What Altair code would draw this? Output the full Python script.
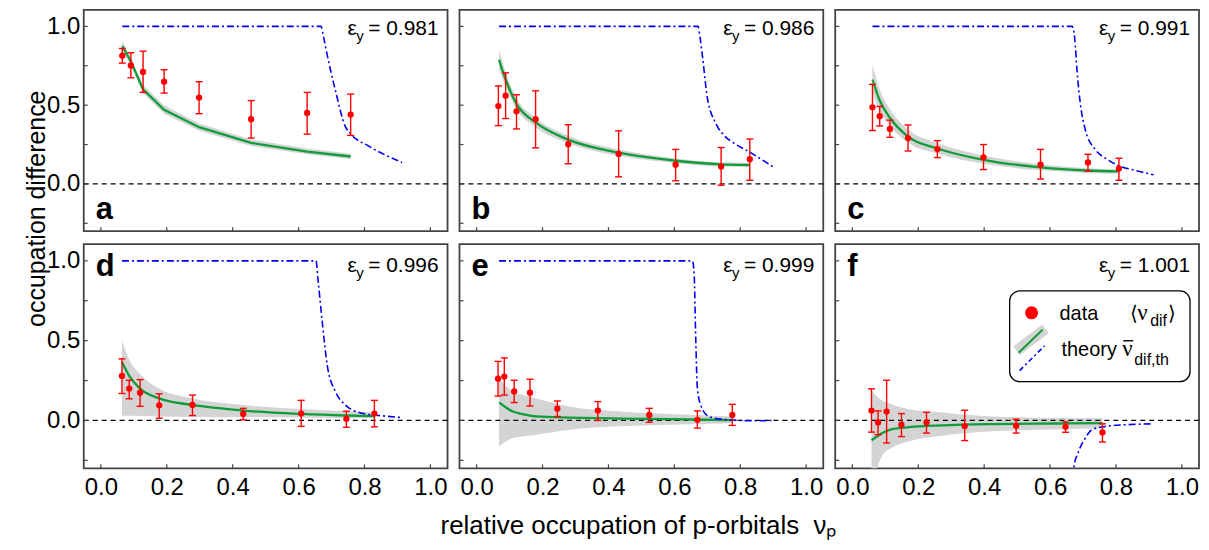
import altair as alt
import pandas as pd

FONT = "Liberation Sans"
SERIF = "Liberation Serif"
XDOM = [-0.052, 1.052]
YDOM = [-0.3, 1.105]
W = 365
H_TOP = 222
H_BOT = 225

panel_keys = ["a", "b", "c", "d", "e", "f"]
eps_values = ["0.981", "0.986", "0.991", "0.996", "0.999", "1.001"]
x_tick_values = [0.0, 0.2, 0.4, 0.6, 0.8, 1.0]
y_tick_values = [-0.25, 0.0, 0.25, 0.5, 0.75, 1.0]
y_label_values = [0.0, 0.5, 1.0]

# ---- measured data (points with error bars) ----
a_x = [0.065, 0.091, 0.128, 0.192, 0.298, 0.456, 0.626, 0.758]
a_y = [0.814, 0.752, 0.711, 0.649, 0.548, 0.411, 0.451, 0.440]
a_lo = [0.767, 0.674, 0.581, 0.577, 0.446, 0.291, 0.316, 0.308]
a_hi = [0.860, 0.833, 0.843, 0.725, 0.649, 0.529, 0.581, 0.570]

b_x = [0.066, 0.088, 0.121, 0.179, 0.278, 0.431, 0.604, 0.742, 0.829]
b_y = [0.494, 0.560, 0.461, 0.411, 0.252, 0.190, 0.122, 0.110, 0.157]
b_lo = [0.370, 0.415, 0.349, 0.229, 0.128, 0.045, 0.020, -0.008, 0.023]
b_hi = [0.622, 0.705, 0.566, 0.591, 0.376, 0.337, 0.219, 0.231, 0.285]

c_x = [0.061, 0.083, 0.114, 0.169, 0.258, 0.398, 0.571, 0.715, 0.809]
c_y = [0.486, 0.430, 0.349, 0.291, 0.221, 0.169, 0.122, 0.136, 0.097]
c_lo = [0.339, 0.368, 0.296, 0.209, 0.167, 0.091, 0.031, 0.081, 0.023]
c_hi = [0.632, 0.492, 0.405, 0.374, 0.275, 0.250, 0.219, 0.188, 0.163]

d_x = [0.064, 0.086, 0.119, 0.177, 0.278, 0.432, 0.608, 0.745, 0.830]
d_y = [0.279, 0.200, 0.174, 0.095, 0.097, 0.041, 0.043, 0.010, 0.043]
d_lo = [0.169, 0.136, 0.089, 0.014, 0.031, 0.004, -0.037, -0.043, -0.040]
d_hi = [0.386, 0.252, 0.256, 0.167, 0.159, 0.076, 0.126, 0.058, 0.126]

e_x = [0.065, 0.084, 0.114, 0.162, 0.245, 0.368, 0.524, 0.670, 0.776]
e_y = [0.262, 0.275, 0.182, 0.174, 0.074, 0.062, 0.035, 0.004, 0.035]
e_lo = [0.153, 0.159, 0.112, 0.091, 0.025, 0.000, -0.011, -0.048, -0.031]
e_hi = [0.370, 0.392, 0.252, 0.258, 0.122, 0.118, 0.076, 0.060, 0.101]

f_x = [0.058, 0.078, 0.104, 0.149, 0.225, 0.341, 0.497, 0.647, 0.759]
f_y = [0.062, -0.012, 0.056, -0.027, -0.012, -0.035, -0.033, -0.040, -0.075]
f_lo = [-0.073, -0.089, -0.141, -0.101, -0.079, -0.126, -0.079, -0.074, -0.135]
f_hi = [0.198, 0.060, 0.252, 0.043, 0.051, 0.064, 0.008, -0.009, -0.021]

# ---- theory (green line with grey uncertainty band) ----
a_tx = [0.065, 0.091, 0.128, 0.192, 0.298, 0.456, 0.626, 0.758]
a_tm = [0.876, 0.777, 0.601, 0.471, 0.360, 0.260, 0.205, 0.174]
a_tlo = [0.848, 0.752, 0.575, 0.445, 0.337, 0.240, 0.188, 0.158]
a_thi = [0.907, 0.802, 0.628, 0.498, 0.383, 0.282, 0.224, 0.192]

b_tx = [0.068, 0.088, 0.121, 0.179, 0.278, 0.431, 0.604, 0.742, 0.829]
b_tm = [0.787, 0.663, 0.508, 0.390, 0.281, 0.198, 0.147, 0.124, 0.120]
b_tlo = [0.730, 0.620, 0.475, 0.360, 0.258, 0.178, 0.132, 0.110, 0.108]
b_thi = [0.850, 0.710, 0.545, 0.420, 0.305, 0.218, 0.162, 0.137, 0.133]

c_tx = [0.061, 0.083, 0.114, 0.169, 0.258, 0.398, 0.571, 0.715, 0.809]
c_tm = [0.663, 0.530, 0.420, 0.300, 0.225, 0.153, 0.105, 0.085, 0.079]
c_tlo = [0.580, 0.465, 0.370, 0.262, 0.193, 0.128, 0.086, 0.070, 0.066]
c_thi = [0.756, 0.600, 0.475, 0.345, 0.260, 0.180, 0.125, 0.100, 0.092]

d_tx = [0.064, 0.086, 0.119, 0.177, 0.278, 0.432, 0.608, 0.745, 0.830]
d_tm = [0.366, 0.279, 0.200, 0.138, 0.097, 0.062, 0.041, 0.031, 0.027]
d_tlo = [0.030, 0.030, 0.028, 0.025, 0.022, 0.020, 0.018, 0.016, 0.015]
d_thi = [0.500, 0.380, 0.290, 0.200, 0.138, 0.097, 0.072, 0.058, 0.052]

e_tx = [0.068, 0.090, 0.110, 0.140, 0.181, 0.282, 0.433, 0.584, 0.776]
e_tm = [0.113, 0.080, 0.056, 0.040, 0.025, 0.018, 0.012, 0.008, 0.002]
e_tlo = [-0.161, -0.130, -0.110, -0.100, -0.089, -0.058, -0.037, -0.027, -0.018]
e_thi = [0.262, 0.215, 0.180, 0.160, 0.138, 0.087, 0.056, 0.041, 0.025]

f_tx = [0.058, 0.075, 0.091, 0.121, 0.172, 0.273, 0.424, 0.626, 0.759]
f_tm = [-0.124, -0.100, -0.079, -0.054, -0.042, -0.031, -0.023, -0.019, -0.017]
f_tlo = [-0.450, -0.300, -0.220, -0.170, -0.130, -0.095, -0.068, -0.055, -0.048]
f_thi = [0.190, 0.150, 0.125, 0.100, 0.070, 0.050, 0.025, 0.016, 0.014]

# ---- theory th (blue dash-dot) ----
a_bx = [0.065, 0.668, 0.676, 0.687, 0.712, 0.742, 0.758, 0.813, 0.914]
a_by = [1.000, 1.000, 0.930, 0.818, 0.591, 0.364, 0.318, 0.240, 0.136]
b_bx = [0.068, 0.672, 0.678, 0.685, 0.700, 0.726, 0.750, 0.780, 0.830, 0.906]
b_by = [1.000, 1.000, 0.930, 0.818, 0.550, 0.384, 0.310, 0.260, 0.200, 0.100]
c_bx = [0.061, 0.667, 0.675, 0.682, 0.692, 0.707, 0.737, 0.770, 0.808, 0.860, 0.914]
c_by = [1.000, 1.000, 0.920, 0.715, 0.508, 0.343, 0.219, 0.160, 0.116, 0.085, 0.058]
d_bx = [0.064, 0.653, 0.659, 0.672, 0.687, 0.712, 0.742, 0.793, 0.850, 0.914]
d_by = [1.000, 1.000, 0.882, 0.614, 0.345, 0.180, 0.097, 0.045, 0.030, 0.018]
e_bx = [0.068, 0.655, 0.660, 0.665, 0.670, 0.680, 0.705, 0.745, 0.846, 0.896]
e_by = [1.000, 1.000, 0.924, 0.510, 0.200, 0.097, 0.025, 0.008, -0.002, 0.000]
f_bx = [0.669, 0.672, 0.687, 0.707, 0.727, 0.768, 0.828, 0.914]
f_by = [-0.450, -0.296, -0.192, -0.110, -0.058, -0.037, -0.027, -0.021]

points = {
    "a": (a_x, a_y, a_lo, a_hi), "b": (b_x, b_y, b_lo, b_hi), "c": (c_x, c_y, c_lo, c_hi),
    "d": (d_x, d_y, d_lo, d_hi), "e": (e_x, e_y, e_lo, e_hi), "f": (f_x, f_y, f_lo, f_hi),
}
theory = {
    "a": (a_tx, a_tm, a_tlo, a_thi), "b": (b_tx, b_tm, b_tlo, b_thi), "c": (c_tx, c_tm, c_tlo, c_thi),
    "d": (d_tx, d_tm, d_tlo, d_thi), "e": (e_tx, e_tm, e_tlo, e_thi), "f": (f_tx, f_tm, f_tlo, f_thi),
}
theory_th = {
    "a": (a_bx, a_by), "b": (b_bx, b_by), "c": (c_bx, c_by),
    "d": (d_bx, d_by), "e": (e_bx, e_by), "f": (f_bx, f_by),
}

RED = "#ff0000"
GREEN = "#0f9d3a"
BLUE = "#0000ee"
BAND = "#d4d4d4"
FRAME = "#444444"


def one(df_cols):
    return pd.DataFrame(df_cols)


def make_panel(key, eps, show_x, show_y, H):
    xs = alt.Scale(domain=XDOM, nice=False, zero=False)
    ys = alt.Scale(domain=YDOM, nice=False, zero=False)
    xaxis = alt.Axis(values=x_tick_values, format=".1f", labelFontSize=24, labelFont=FONT,
                     labelColor="black", ticks=False, domain=False, grid=False,
                     labelPadding=7, title=None, labelOverlap=False) if show_x else None
    yaxis = alt.Axis(values=y_label_values, format=".1f", labelFontSize=24, labelFont=FONT,
                     labelColor="black", ticks=False, domain=False, grid=False,
                     labelPadding=4, title=None) if show_y else None

    px, py, plo, phi = points[key]
    tx, tm, tlo, thi = theory[key]
    bx, by = theory_th[key]
    pdf = one({"x": px, "y": py, "lo": plo, "hi": phi})
    tdf = one({"x": tx, "m": tm, "lo": tlo, "hi": thi})
    bdf = one({"x": bx, "y": by})

    X = alt.X("x:Q", scale=xs, axis=xaxis)
    interp = "linear" if key == "a" else "monotone"

    band = alt.Chart(tdf).mark_area(color=BAND, clip=True, interpolate=interp, opacity=1).encode(
        x=X, y=alt.Y("lo:Q", scale=ys, axis=yaxis), y2="hi:Q")
    zero = alt.Chart(one({"z": [0.0]})).mark_rule(color="black", strokeDash=[5, 4], strokeWidth=1.3).encode(
        y=alt.Y("z:Q", scale=ys))
    green = alt.Chart(tdf).mark_line(color=GREEN, strokeWidth=2.3, interpolate=interp, clip=True).encode(
        x=X, y=alt.Y("m:Q", scale=ys))
    blue = alt.Chart(bdf).mark_line(color=BLUE, strokeWidth=1.6, strokeDash=[7, 3, 2, 3], clip=True,
                                    interpolate="monotone").encode(x=X, y=alt.Y("y:Q", scale=ys))
    err = alt.Chart(pdf).mark_rule(color=RED, strokeWidth=1.4).encode(
        x=X, y=alt.Y("lo:Q", scale=ys), y2="hi:Q")
    cap_lo = alt.Chart(pdf).mark_tick(color=RED, orient="horizontal", size=7, thickness=1.4, opacity=1).encode(
        x=X, y=alt.Y("lo:Q", scale=ys))
    cap_hi = alt.Chart(pdf).mark_tick(color=RED, orient="horizontal", size=7, thickness=1.4, opacity=1).encode(
        x=X, y=alt.Y("hi:Q", scale=ys))
    dots = alt.Chart(pdf).mark_circle(color=RED, size=40, opacity=1).encode(
        x=X, y=alt.Y("y:Q", scale=ys))
    xt = alt.Chart(one({"t": x_tick_values})).mark_rule(color=FRAME, strokeWidth=1.2).encode(
        x=alt.X("t:Q", scale=xs), y=alt.value(H), y2=alt.value(H - 4))
    yt = alt.Chart(one({"t": y_tick_values})).mark_rule(color=FRAME, strokeWidth=1.2).encode(
        y=alt.Y("t:Q", scale=ys), x=alt.value(0), x2=alt.value(4))

    top_row = key in ("a", "b", "c")
    letter_y = 210 if top_row else 32
    eps_y = 25 if top_row else 28
    letter = alt.Chart(one({"t": [key]})).mark_text(
        align="left", baseline="alphabetic", font=FONT, fontSize=31, fontWeight="bold", color="black"
    ).encode(text="t:N", x=alt.value(12), y=alt.value(letter_y))

    eps_num = alt.Chart(one({"t": ["= " + eps]})).mark_text(
        align="right", baseline="alphabetic", font=FONT, fontSize=21, color="black"
    ).encode(text="t:N", x=alt.value(W - 9), y=alt.value(eps_y))
    eps_sub = alt.Chart(one({"t": ["y"]})).mark_text(
        align="right", baseline="alphabetic", font=FONT, fontSize=15, color="black"
    ).encode(text="t:N", x=alt.value(W - 9 - 75), y=alt.value(eps_y + 6))
    eps_sym = alt.Chart(one({"t": ["ε"]})).mark_text(
        align="right", baseline="alphabetic", font=FONT, fontSize=21, color="black"
    ).encode(text="t:N", x=alt.value(W - 9 - 82), y=alt.value(eps_y))

    layers = [band, zero, green, blue, err, cap_lo, cap_hi, dots, xt, yt, letter, eps_sym, eps_sub, eps_num]

    if key == "f":
        one_row = one({"k": [0]})
        box = alt.Chart(one_row).mark_rect(
            fill="white", stroke="black", strokeWidth=1.3, cornerRadius=10
        ).encode(x=alt.value(175), x2=alt.value(356), y=alt.value(47), y2=alt.value(138))
        ldot = alt.Chart(one_row).mark_circle(color=RED, size=170, opacity=1).encode(
            x=alt.value(197), y=alt.value(69))
        lband = alt.Chart(one_row).mark_rule(color=BAND, strokeWidth=11).encode(
            x=alt.value(182), y=alt.value(107), x2=alt.value(211), y2=alt.value(85))
        lgreen = alt.Chart(one_row).mark_rule(color=GREEN, strokeWidth=2).encode(
            x=alt.value(184), y=alt.value(109), x2=alt.value(208), y2=alt.value(86))
        lblue = alt.Chart(one_row).mark_rule(color=BLUE, strokeWidth=1.6, strokeDash=[5, 3, 2, 3]).encode(
            x=alt.value(185), y=alt.value(127), x2=alt.value(210), y2=alt.value(102))
        macron = alt.Chart(one_row).mark_rule(color="black", strokeWidth=1.4).encode(
            x=alt.value(289), y=alt.value(97), x2=alt.value(299), y2=alt.value(97))

        def txt(s, x, y, size=20, font=FONT):
            return alt.Chart(one({"t": [s]})).mark_text(
                align="left", baseline="alphabetic", font=font, fontSize=size, color="black"
            ).encode(text="t:N", x=alt.value(x), y=alt.value(y))

        layers += [box, ldot, lband, lgreen, lblue, macron,
                   txt("data", 225, 76), txt("theory", 227, 112),
                   txt("⟨", 296, 76), txt("ν", 303, 76, size=23, font=SERIF),
                   txt("dif", 316, 82, size=16), txt("⟩", 334, 76),
                   txt("ν", 288, 112, size=23, font=SERIF), txt("dif,th", 300, 121, size=16)]

    return alt.layer(*layers).properties(width=W, height=H)


panels = []
for i, (k, e) in enumerate(zip(panel_keys, eps_values)):
    panels.append(make_panel(k, e, show_x=(i >= 3), show_y=(i % 3 == 0), H=H_TOP if i < 3 else H_BOT))

grid = alt.vconcat(
    alt.hconcat(*panels[:3], spacing=8),
    alt.hconcat(*panels[3:], spacing=8),
    spacing=10,
).properties(title=alt.TitleParams("occupation difference", orient="left", anchor="middle",
                                   fontSize=25, font=FONT, fontWeight="normal", color="black",
                                   offset=-4, dx=46))

chart = alt.vconcat(grid).properties(
    title=alt.TitleParams("relative occupation of p-orbitals\u00a0\u00a0νₚ", orient="bottom", anchor="middle",
                          fontSize=26, font=FONT, fontWeight="normal", color="black", offset=13, dx=26),
    padding={"left": 16, "top": 0, "right": 0, "bottom": 0},
).configure_view(stroke=FRAME, strokeWidth=1.8).configure_concat(spacing=0)

chart.save("out.html", embed_options={"renderer": "svg", "actions": False})
